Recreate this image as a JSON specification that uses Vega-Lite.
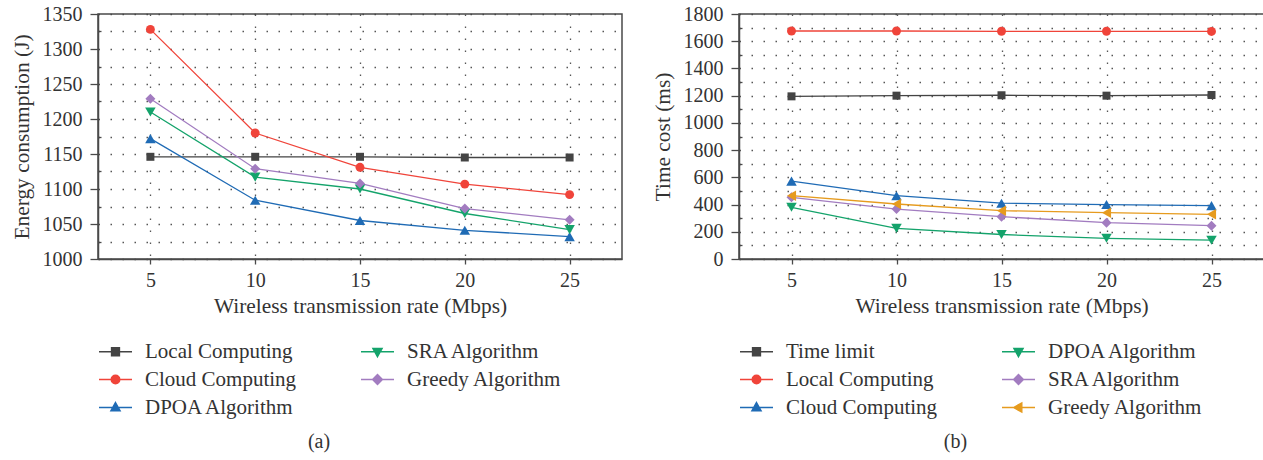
{
  "$schema": "https://vega.github.io/schema/vega-lite/v6.json",
  "background": "white",
  "padding": {"left": 10, "top": 3, "right": 0, "bottom": 0},
  "spacing": 28,
  "datasets": {
    "energy": [
      {"rate": 5, "series": "Local Computing", "value": 1146},
      {"rate": 10, "series": "Local Computing", "value": 1146},
      {"rate": 15, "series": "Local Computing", "value": 1146},
      {"rate": 20, "series": "Local Computing", "value": 1145},
      {"rate": 25, "series": "Local Computing", "value": 1145},
      {"rate": 5, "series": "Cloud Computing", "value": 1328},
      {"rate": 10, "series": "Cloud Computing", "value": 1180},
      {"rate": 15, "series": "Cloud Computing", "value": 1131},
      {"rate": 20, "series": "Cloud Computing", "value": 1107},
      {"rate": 25, "series": "Cloud Computing", "value": 1092},
      {"rate": 5, "series": "DPOA Algorithm", "value": 1172},
      {"rate": 10, "series": "DPOA Algorithm", "value": 1084},
      {"rate": 15, "series": "DPOA Algorithm", "value": 1055},
      {"rate": 20, "series": "DPOA Algorithm", "value": 1041},
      {"rate": 25, "series": "DPOA Algorithm", "value": 1032},
      {"rate": 5, "series": "SRA Algorithm", "value": 1210},
      {"rate": 10, "series": "SRA Algorithm", "value": 1117},
      {"rate": 15, "series": "SRA Algorithm", "value": 1100},
      {"rate": 20, "series": "SRA Algorithm", "value": 1065},
      {"rate": 25, "series": "SRA Algorithm", "value": 1042},
      {"rate": 5, "series": "Greedy Algorithm", "value": 1229},
      {"rate": 10, "series": "Greedy Algorithm", "value": 1129},
      {"rate": 15, "series": "Greedy Algorithm", "value": 1108},
      {"rate": 20, "series": "Greedy Algorithm", "value": 1072},
      {"rate": 25, "series": "Greedy Algorithm", "value": 1056}
    ],
    "time": [
      {"rate": 5, "series": "Time limit", "value": 1195},
      {"rate": 10, "series": "Time limit", "value": 1200},
      {"rate": 15, "series": "Time limit", "value": 1203},
      {"rate": 20, "series": "Time limit", "value": 1200},
      {"rate": 25, "series": "Time limit", "value": 1205},
      {"rate": 5, "series": "Local Computing", "value": 1675},
      {"rate": 10, "series": "Local Computing", "value": 1675},
      {"rate": 15, "series": "Local Computing", "value": 1673},
      {"rate": 20, "series": "Local Computing", "value": 1673},
      {"rate": 25, "series": "Local Computing", "value": 1672},
      {"rate": 5, "series": "Cloud Computing", "value": 572},
      {"rate": 10, "series": "Cloud Computing", "value": 465},
      {"rate": 15, "series": "Cloud Computing", "value": 410},
      {"rate": 20, "series": "Cloud Computing", "value": 400},
      {"rate": 25, "series": "Cloud Computing", "value": 392},
      {"rate": 5, "series": "DPOA Algorithm", "value": 380},
      {"rate": 10, "series": "DPOA Algorithm", "value": 225},
      {"rate": 15, "series": "DPOA Algorithm", "value": 180},
      {"rate": 20, "series": "DPOA Algorithm", "value": 152},
      {"rate": 25, "series": "DPOA Algorithm", "value": 138},
      {"rate": 5, "series": "SRA Algorithm", "value": 453},
      {"rate": 10, "series": "SRA Algorithm", "value": 367},
      {"rate": 15, "series": "SRA Algorithm", "value": 311},
      {"rate": 20, "series": "SRA Algorithm", "value": 267},
      {"rate": 25, "series": "SRA Algorithm", "value": 245},
      {"rate": 5, "series": "Greedy Algorithm", "value": 465},
      {"rate": 10, "series": "Greedy Algorithm", "value": 404},
      {"rate": 15, "series": "Greedy Algorithm", "value": 355},
      {"rate": 20, "series": "Greedy Algorithm", "value": 340},
      {"rate": 25, "series": "Greedy Algorithm", "value": 328}
    ]
  },
  "config": {
    "font": "Liberation Serif",
    "view": {"stroke": "#4a4a4a", "strokeWidth": 1.5},
    "axis": {
      "labelFont": "Liberation Serif",
      "labelFontSize": 20,
      "labelColor": "#333333",
      "titleFont": "Liberation Serif",
      "titleFontSize": 21.4,
      "titleFontWeight": "normal",
      "titleColor": "#333333",
      "domainColor": "#4a4a4a",
      "domainWidth": 1.5,
      "tickColor": "#4a4a4a",
      "tickWidth": 1.3,
      "grid": true,
      "gridColor": "#444444",
      "gridDash": [1.5, 10.5],
      "gridWidth": 1.3,
      "gridOpacity": 0.9
    },
    "legend": {
      "labelFont": "Liberation Serif",
      "labelFontSize": 21,
      "labelColor": "#333333",
      "labelLimit": 400,
      "orient": "bottom",
      "direction": "horizontal",
      "columns": 2,
      "symbolSize": 1089,
      "symbolStrokeWidth": 1.4,
      "symbolOpacity": 1,
      "columnPadding": 61,
      "rowPadding": 0,
      "labelOffset": 12,
      "offset": 17
    },
    "title": {
      "font": "Liberation Serif",
      "fontSize": 20,
      "fontWeight": "normal",
      "color": "#333333"
    }
  },
  "resolve": {
    "scale": {"shape": "independent", "fill": "independent", "stroke": "independent"},
    "legend": {"shape": "independent", "fill": "independent", "stroke": "independent"}
  },
  "hconcat": [
    {
      "width": 524,
      "height": 245,
      "data": {"name": "energy"},
      "title": {"text": "(a)", "orient": "bottom", "anchor": "middle", "dx": -41, "offset": 14},
      "encoding": {
        "x": {
          "field": "rate", "type": "quantitative",
          "scale": {"domain": [2.5, 27.5], "nice": false, "zero": false},
          "axis": {"title": "Wireless transmission rate (Mbps)", "values": [5, 10, 15, 20, 25], "tickSize": 5, "labelPadding": 6, "titlePadding": 5}
        },
        "y": {
          "field": "value", "type": "quantitative",
          "scale": {"domain": [1000, 1350], "nice": false, "zero": false},
          "axis": {
            "title": "Energy consumption (J)",
            "format": "d",
            "values": [1000, 1025, 1050, 1075, 1100, 1125, 1150, 1175, 1200, 1225, 1250, 1275, 1300, 1325, 1350],
            "labelExpr": "datum.value % 50 === 0 ? datum.label : ''",
            "tickSize": {"condition": {"test": "datum.value % 50 === 0", "value": 8}, "value": -3},
            "labelPadding": 8,
            "titlePadding": 10
          }
        }
      },
      "layer": [
        {
          "mark": {"type": "line", "strokeWidth": 1.3},
          "encoding": {
            "stroke": {
              "field": "series", "type": "nominal",
              "scale": {"domain": ["Local Computing", "SRA Algorithm", "Cloud Computing", "Greedy Algorithm", "DPOA Algorithm"], "range": ["#444444", "#14a36b", "#f0443a", "#a27cc0", "#1f6bb5"]},
              "legend": {"title": null}
            }
          }
        },
        {"transform": [{"filter": "datum.series === 'Local Computing'"}], "mark": {"type": "point", "shape": "square", "filled": true, "opacity": 1, "size": 64, "fill": "#444444"}},
        {"transform": [{"filter": "datum.series === 'Cloud Computing'"}], "mark": {"type": "point", "shape": "circle", "filled": true, "opacity": 1, "size": 80, "fill": "#f0443a"}},
        {"transform": [{"filter": "datum.series === 'DPOA Algorithm'"}], "mark": {"type": "point", "shape": "triangle-up", "filled": true, "opacity": 1, "size": 110, "fill": "#1f6bb5"}},
        {"transform": [{"filter": "datum.series === 'SRA Algorithm'"}], "mark": {"type": "point", "shape": "triangle-down", "filled": true, "opacity": 1, "size": 110, "fill": "#14a36b"}},
        {"transform": [{"filter": "datum.series === 'Greedy Algorithm'"}], "mark": {"type": "point", "shape": "diamond", "filled": true, "opacity": 1, "size": 100, "fill": "#a27cc0"}},
        {
          "transform": [{"filter": "datum.rate < 0"}],
          "mark": {"type": "point", "filled": true, "opacity": 1},
          "encoding": {
            "shape": {
              "field": "series", "type": "nominal",
              "scale": {
                "domain": ["Local Computing", "SRA Algorithm", "Cloud Computing", "Greedy Algorithm", "DPOA Algorithm"],
                "range": ["M-1,0H1M-0.24,-0.24H0.24V0.24H-0.24Z", "M-1,0H1M0,0.3L0.28,-0.2H-0.28Z", "M-1,0H1M-0.26,0A0.26,0.26,0,1,0,0.26,0A0.26,0.26,0,1,0,-0.26,0Z", "M-1,0H1M0,-0.3L0.3,0L0,0.3L-0.3,0Z", "M-1,0H1M0,-0.3L0.28,0.2H-0.28Z"]
              },
              "legend": {"title": null}
            },
            "fill": {
              "field": "series", "type": "nominal",
              "scale": {"domain": ["Local Computing", "SRA Algorithm", "Cloud Computing", "Greedy Algorithm", "DPOA Algorithm"], "range": ["#444444", "#14a36b", "#f0443a", "#a27cc0", "#1f6bb5"]},
              "legend": {"title": null}
            },
            "stroke": {
              "field": "series", "type": "nominal",
              "scale": {"domain": ["Local Computing", "SRA Algorithm", "Cloud Computing", "Greedy Algorithm", "DPOA Algorithm"], "range": ["#444444", "#14a36b", "#f0443a", "#a27cc0", "#1f6bb5"]},
              "legend": {"title": null}
            }
          }
        }
      ]
    },
    {
      "width": 525,
      "height": 245,
      "data": {"name": "time"},
      "title": {"text": "(b)", "orient": "bottom", "anchor": "middle", "dx": -46, "offset": 14},
      "encoding": {
        "x": {
          "field": "rate", "type": "quantitative",
          "scale": {"domain": [2.5, 27.5], "nice": false, "zero": false},
          "axis": {"title": "Wireless transmission rate (Mbps)", "values": [5, 10, 15, 20, 25], "tickSize": 5, "labelPadding": 6, "titlePadding": 5}
        },
        "y": {
          "field": "value", "type": "quantitative",
          "scale": {"domain": [0, 1800], "nice": false},
          "axis": {
            "title": "Time cost (ms)",
            "format": "d",
            "values": [0, 100, 200, 300, 400, 500, 600, 700, 800, 900, 1000, 1100, 1200, 1300, 1400, 1500, 1600, 1700, 1800],
            "labelExpr": "datum.value % 200 === 0 ? datum.label : ''",
            "tickSize": {"condition": {"test": "datum.value % 200 === 0", "value": 8}, "value": -3},
            "labelPadding": 8,
            "titlePadding": 10
          }
        }
      },
      "layer": [
        {
          "mark": {"type": "line", "strokeWidth": 1.3},
          "encoding": {
            "stroke": {
              "field": "series", "type": "nominal",
              "scale": {"domain": ["Time limit", "DPOA Algorithm", "Local Computing", "SRA Algorithm", "Cloud Computing", "Greedy Algorithm"], "range": ["#444444", "#14a36b", "#f0443a", "#a27cc0", "#1f6bb5", "#e69b1e"]},
              "legend": {"title": null}
            }
          }
        },
        {"transform": [{"filter": "datum.series === 'Time limit'"}], "mark": {"type": "point", "shape": "square", "filled": true, "opacity": 1, "size": 64, "fill": "#444444"}},
        {"transform": [{"filter": "datum.series === 'Local Computing'"}], "mark": {"type": "point", "shape": "circle", "filled": true, "opacity": 1, "size": 80, "fill": "#f0443a"}},
        {"transform": [{"filter": "datum.series === 'Cloud Computing'"}], "mark": {"type": "point", "shape": "triangle-up", "filled": true, "opacity": 1, "size": 110, "fill": "#1f6bb5"}},
        {"transform": [{"filter": "datum.series === 'DPOA Algorithm'"}], "mark": {"type": "point", "shape": "triangle-down", "filled": true, "opacity": 1, "size": 110, "fill": "#14a36b"}},
        {"transform": [{"filter": "datum.series === 'SRA Algorithm'"}], "mark": {"type": "point", "shape": "diamond", "filled": true, "opacity": 1, "size": 100, "fill": "#a27cc0"}},
        {"transform": [{"filter": "datum.series === 'Greedy Algorithm'"}], "mark": {"type": "point", "shape": "triangle-left", "filled": true, "opacity": 1, "size": 110, "fill": "#e69b1e"}},
        {
          "transform": [{"filter": "datum.rate < 0"}],
          "mark": {"type": "point", "filled": true, "opacity": 1},
          "encoding": {
            "shape": {
              "field": "series", "type": "nominal",
              "scale": {
                "domain": ["Time limit", "DPOA Algorithm", "Local Computing", "SRA Algorithm", "Cloud Computing", "Greedy Algorithm"],
                "range": ["M-1,0H1M-0.24,-0.24H0.24V0.24H-0.24Z", "M-1,0H1M0,0.3L0.28,-0.2H-0.28Z", "M-1,0H1M-0.26,0A0.26,0.26,0,1,0,0.26,0A0.26,0.26,0,1,0,-0.26,0Z", "M-1,0H1M0,-0.3L0.3,0L0,0.3L-0.3,0Z", "M-1,0H1M0,-0.3L0.28,0.2H-0.28Z", "M-1,0H1M-0.3,0L0.2,-0.28V0.28Z"]
              },
              "legend": {"title": null}
            },
            "fill": {
              "field": "series", "type": "nominal",
              "scale": {"domain": ["Time limit", "DPOA Algorithm", "Local Computing", "SRA Algorithm", "Cloud Computing", "Greedy Algorithm"], "range": ["#444444", "#14a36b", "#f0443a", "#a27cc0", "#1f6bb5", "#e69b1e"]},
              "legend": {"title": null}
            },
            "stroke": {
              "field": "series", "type": "nominal",
              "scale": {"domain": ["Time limit", "DPOA Algorithm", "Local Computing", "SRA Algorithm", "Cloud Computing", "Greedy Algorithm"], "range": ["#444444", "#14a36b", "#f0443a", "#a27cc0", "#1f6bb5", "#e69b1e"]},
              "legend": {"title": null}
            }
          }
        }
      ]
    }
  ]
}
